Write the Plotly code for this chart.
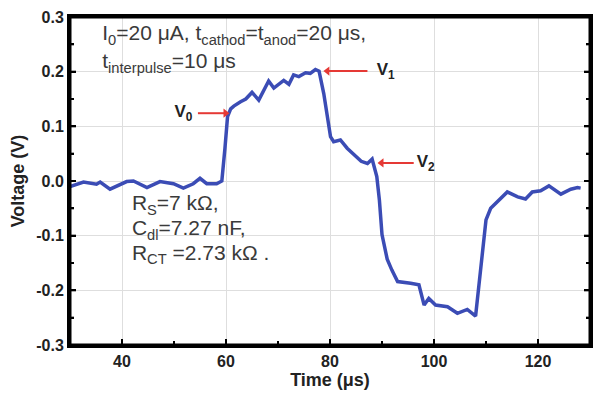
import plotly.graph_objects as go

time_us = [30, 32.6, 35.1, 35.8, 37.7, 40.9, 42.2, 44.8, 47.3, 49.9, 51.8, 53.7, 55.0, 56.3, 58.2,
           59.2, 59.8, 60.3, 60.9, 61.5, 62.8, 63.8, 65.0, 66.3, 68.2, 69.2, 71.1, 72.1, 73.0, 74.0,
           75.3, 76.2, 77.2, 77.9, 78.8, 80.1, 80.7, 82.0, 83.3, 84.6, 86.0, 87.2, 88.1, 89.0, 89.5,
           90.0, 91.0, 91.9, 93.0, 95.5, 97.1, 98.1, 99.0, 100.3, 102.6, 104.5, 106.4, 108.0, 109.6,
           110.0, 110.9, 112.2, 114.1, 116.1, 117.6, 118.9, 120.5, 122.1, 124.4, 126.3, 127.6, 128.2]
voltage = [-0.010, -0.002, -0.006, -0.002, -0.015, -0.001, 0.000, -0.012, -0.001, -0.005, -0.013, -0.005, 0.005, -0.005, -0.005,
           0.000, 0.060, 0.118, 0.132, 0.137, 0.145, 0.150, 0.162, 0.148, 0.183, 0.170, 0.184, 0.177, 0.194, 0.191,
           0.198, 0.197, 0.204, 0.201, 0.160, 0.081, 0.072, 0.075, 0.060, 0.048, 0.036, 0.032, 0.040, 0.008, -0.035,
           -0.098, -0.143, -0.163, -0.184, -0.187, -0.190, -0.227, -0.215, -0.227, -0.230, -0.242, -0.235, -0.247, -0.105,
           -0.071, -0.050, -0.037, -0.020, -0.029, -0.033, -0.020, -0.018, -0.009, -0.024, -0.015, -0.012, -0.013]

x_ticks = [40, 60, 80, 100, 120]
x_tick_labels = ["40", "60", "80", "100", "120"]
x_minor_ticks = [50, 70, 90, 110]
y_ticks = [-0.3, -0.2, -0.1, 0.0, 0.1, 0.2, 0.3]
y_tick_labels = ["-0.3", "-0.2", "-0.1", "0.0", "0.1", "0.2", "0.3"]
y_minor_ticks = [-0.25, -0.15, -0.05, 0.05, 0.15, 0.25]

# marker arrows V0, V1, V2
arrow_head_t = [59.9, 79.5, 89.9]
arrow_tail_t = [54.6, 87.2, 96.1]
arrow_v = [0.124, 0.201, 0.033]
arrow_symbol = ["triangle-right", "triangle-left", "triangle-left"]
arrow_label_t = [51.8, 90.7, 98.4]
arrow_label = ["V<sub>0</sub>", "V<sub>1</sub>", "V<sub>2</sub>"]

# note texts (left edge position, vertical centre)
note_t = [36.2, 36.2, 41.9, 41.9, 41.9]
note_v = [0.267, 0.216, -0.044, -0.090, -0.135]
note_text = [
    "I<sub>0</sub>=20 μA, t<sub>cathod</sub>=t<sub>anod</sub>=20 μs,",
    "t<sub>interpulse</sub>=10 μs",
    "R<sub>S</sub>=7 kΩ,",
    "C<sub>dl</sub>=7.27 nF,",
    "R<sub>CT</sub> =2.73 kΩ .",
]

FONT = "Liberation Sans, Arial, sans-serif"
TXT = "#3a3a3a"
RED = "#e53935"
X_RANGE = [30, 130]
Y_RANGE = [-0.3, 0.3]

fig = go.Figure()
fig.add_trace(go.Scatter(x=time_us, y=voltage, mode="lines",
                         line=dict(color="#3b4cb5", width=3.5), showlegend=False))

# arrows: shaft segments + triangle heads
shaft_x, shaft_y = [], []
for h, t, v in zip(arrow_head_t, arrow_tail_t, arrow_v):
    shaft_x += [t, h, None]
    shaft_y += [v, v, None]
fig.add_trace(go.Scatter(x=shaft_x, y=shaft_y, mode="lines", line=dict(color=RED, width=2),
                         showlegend=False, hoverinfo="skip"))
fig.add_trace(go.Scatter(x=arrow_head_t, y=arrow_v, mode="markers",
                         marker=dict(symbol=arrow_symbol, size=8, color=RED, line=dict(width=0)),
                         showlegend=False, hoverinfo="skip"))
fig.add_trace(go.Scatter(x=arrow_label_t, y=arrow_v, mode="text", text=arrow_label,
                         textposition="middle center",
                         textfont=dict(family=FONT, size=17, color="#222", weight="bold"),
                         showlegend=False, hoverinfo="skip"))
fig.add_trace(go.Scatter(x=note_t, y=note_v, mode="text", text=note_text,
                         textposition="middle right",
                         textfont=dict(family=FONT, size=21, color=TXT),
                         showlegend=False, hoverinfo="skip"))

# carrier for the minor-tick overlay axes
fig.add_trace(go.Scatter(x=[], y=[], xaxis="x2", yaxis="y2", showlegend=False, hoverinfo="skip"))

line_style = dict(showline=True, linecolor="black", linewidth=3, ticks="inside",
                  tickcolor="black", tickwidth=2, zeroline=False, automargin=False)

fig.update_layout(
    xaxis=dict(range=X_RANGE, tickmode="array", tickvals=x_ticks, ticktext=x_tick_labels,
               mirror=True, ticklen=6, showgrid=True, gridcolor="#dedede", gridwidth=1,
               tickfont=dict(family=FONT, size=16, color="#222", weight="bold"),
               title=dict(text="Time (μs)", standoff=5,
                          font=dict(family=FONT, size=18, color="#222", weight="bold")),
               **line_style),
    yaxis=dict(range=Y_RANGE, tickmode="array", tickvals=y_ticks, ticktext=y_tick_labels,
               mirror="ticks", ticklen=6, showgrid=True, gridcolor="#dedede", gridwidth=1,
               tickfont=dict(family=FONT, size=16, color="#222", weight="bold"),
               title=dict(text="Voltage (V)", standoff=10,
                          font=dict(family=FONT, size=18, color="#222", weight="bold")),
               **line_style),
    xaxis2=dict(range=X_RANGE, overlaying="x", anchor="y2", side="bottom", tickmode="array",
                tickvals=x_minor_ticks, ticklen=4, showticklabels=False, showgrid=False, **line_style),
    yaxis2=dict(range=Y_RANGE, overlaying="y", anchor="x2", side="left", tickmode="array",
                tickvals=y_minor_ticks, ticklen=4, mirror="ticks", showticklabels=False,
                showgrid=False, **line_style),
)

# frame and inward tick marks as layout shapes (backup for the axis lines/ticks)
fig.add_shape(type="rect", xref="paper", yref="paper", x0=0, x1=1, y0=0, y1=1,
              line=dict(color="black", width=3), layer="above")
tick_line = dict(color="black", width=2)
for xv, ln in [(v, 6) for v in x_ticks] + [(v, 4) for v in x_minor_ticks]:
    fig.add_shape(type="line", xref="x", yref="paper", ysizemode="pixel", yanchor=0,
                  x0=xv, x1=xv, y0=0, y1=ln, line=tick_line, layer="above")
for yv, ln in [(v, 6) for v in y_ticks[1:-1]] + [(v, 4) for v in y_minor_ticks]:
    fig.add_shape(type="line", xref="paper", yref="y", xsizemode="pixel", xanchor=0,
                  x0=0, x1=ln, y0=yv, y1=yv, line=tick_line, layer="above")
    fig.add_shape(type="line", xref="paper", yref="y", xsizemode="pixel", xanchor=1,
                  x0=-ln, x1=0, y0=yv, y1=yv, line=tick_line, layer="above")

# the page body adds an 8px offset, so size/margins land the plot area at 70..590 x 17..345
fig.update_layout(width=596, height=391, margin=dict(l=62, r=14, t=9, b=54, autoexpand=False),
                  plot_bgcolor="white", paper_bgcolor="white")

fig.write_html("out.html")
